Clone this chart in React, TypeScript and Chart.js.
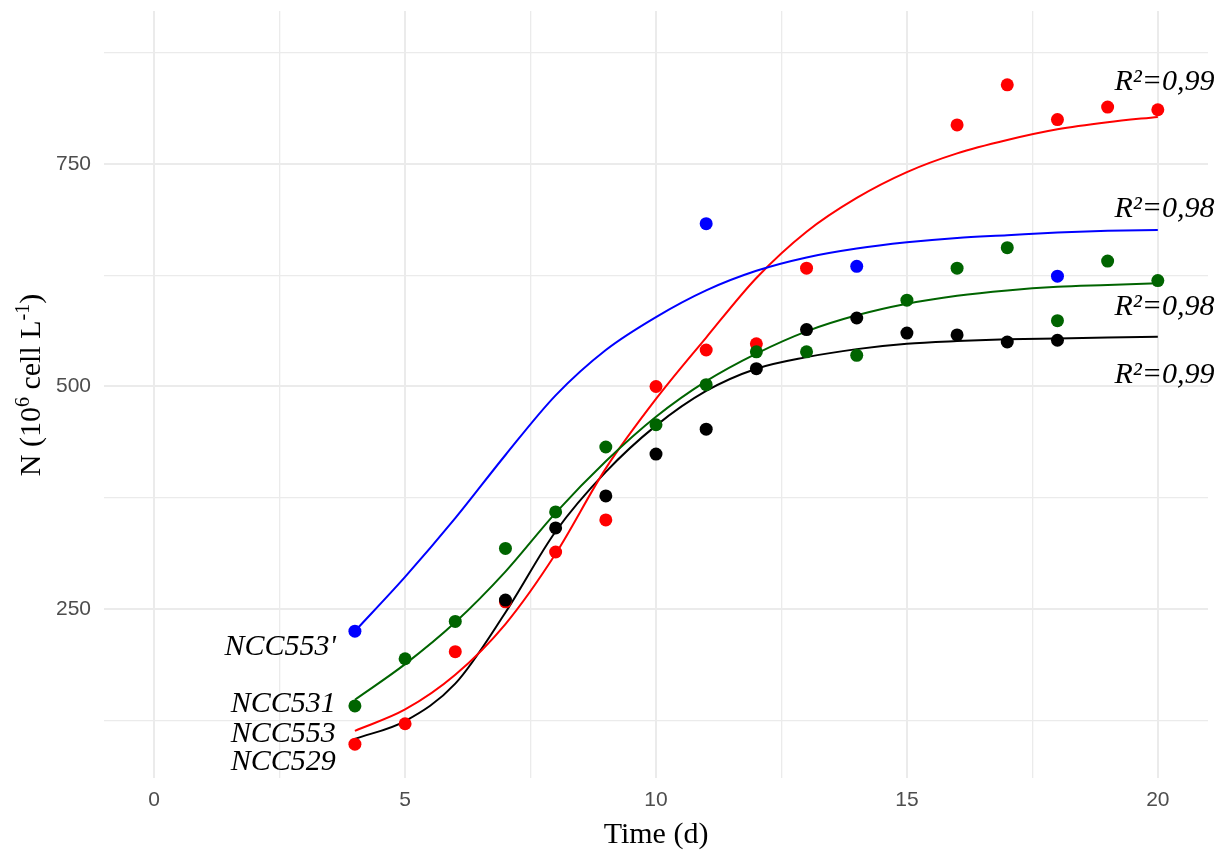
import React, { useEffect, useRef } from "react";
import { Chart, registerables } from "chart.js";

Chart.register(...registerables);

// ---- Data ----
// Fitted growth curves, sampled at each day
const curveDays = [4, 5, 6, 7, 8, 9, 10, 11, 12, 13, 14, 15, 16, 17, 18, 19, 20];
const fitNCC553p = [225, 286, 352, 423, 490, 541, 578, 608, 630, 645, 655, 662, 667, 670, 673, 675, 676];
const fitNCC531 = [148, 188, 235, 292, 358, 416, 466, 506, 537, 562, 580, 593, 602, 608, 612, 614, 616];
const fitNCC553 = [113, 137, 176, 233, 312, 408, 486, 555, 622, 674, 712, 741, 762, 777, 789, 797, 803];
const fitNCC529 = [104, 124, 166, 246, 337, 404, 456, 495, 520, 533, 542, 548, 551, 553, 554, 555, 556];

// Observed cell densities
const daysNCC553p = [4, 11, 14, 18];
const obsNCC553p = [225, 683, 635, 624];
const daysNCC531 = [4, 5, 6, 7, 8, 9, 10, 11, 12, 13, 14, 15, 16, 17, 18, 19, 20];
const obsNCC531 = [141, 194, 236, 318, 359, 432, 457, 502, 539, 539, 535, 597, 633, 656, 574, 641, 619];
const daysNCC553 = [4, 5, 6, 7, 8, 9, 10, 11, 12, 13, 16, 17, 18, 19, 20];
const obsNCC553 = [98, 121, 202, 258, 314, 350, 500, 541, 548, 633, 794, 839, 800, 814, 811];
const daysNCC529 = [7, 8, 9, 10, 11, 12, 13, 14, 15, 16, 17, 18];
const obsNCC529 = [260, 341, 377, 424, 452, 520, 564, 577, 560, 558, 550, 552];

// Text labels
const strainNames = ["NCC553'", "NCC531", "NCC553", "NCC529"];
const r2Labels = ["R²=0,99", "R²=0,98", "R²=0,98", "R²=0,99"];

// Ticks
const xTickValues = [0, 2.5, 5, 7.5, 10, 12.5, 15, 17.5, 20];
const xTickLabels = ["0", "", "5", "", "10", "", "15", "", "20"];
const yTickValues = [125, 250, 375, 500, 625, 750, 875];
const yTickLabels = ["", "250", "", "500", "", "750", ""];

// ---- Styling / placement (not data) ----
const COLORS = { blue: "#0000FF", green: "#006400", red: "#FF0000", black: "#000000" };
const SERIF = '"Liberation Serif", "DejaVu Serif", serif';
const leftLabelX = 3.62;
const leftLabelBaseY = [198, 134, 101, 68.5];
const rightLabelX = 21.13;
const rightLabelBaseY = [833, 691, 580.5, 504];

const pts = (xs: number[], ys: number[]) => xs.map((x, i) => ({ x, y: ys[i] }));

const annotationPlugin = {
  id: "annotations",
  afterDraw(chart: any) {
    const { ctx, scales } = chart;
    const x = scales.x;
    const y = scales.y;
    ctx.save();
    ctx.fillStyle = "#000";
    ctx.font = `italic 30px ${SERIF}`;
    ctx.textBaseline = "alphabetic";
    ctx.textAlign = "right";
    strainNames.forEach((name, i) => {
      ctx.fillText(name, x.getPixelForValue(leftLabelX), y.getPixelForValue(leftLabelBaseY[i]));
    });
    r2Labels.forEach((lab, i) => {
      ctx.fillText(lab, x.getPixelForValue(rightLabelX), y.getPixelForValue(rightLabelBaseY[i]));
    });

    // y-axis title with superscripts
    const mainFont = `30px ${SERIF}`;
    const supFont = `20px ${SERIF}`;
    const parts: { t: string; sup: boolean }[] = [
      { t: "N (10", sup: false },
      { t: "6", sup: true },
      { t: " cell L", sup: false },
      { t: "-1", sup: true },
      { t: ")", sup: false },
    ];
    let total = 0;
    const widths = parts.map((p) => {
      ctx.font = p.sup ? supFont : mainFont;
      const w = ctx.measureText(p.t).width;
      total += w;
      return w;
    });
    ctx.translate(40, 385);
    ctx.rotate(-Math.PI / 2);
    ctx.textAlign = "left";
    let cx = -total / 2;
    parts.forEach((p, i) => {
      ctx.font = p.sup ? supFont : mainFont;
      ctx.fillText(p.t, cx, p.sup ? -11 : 0);
      cx += widths[i];
    });
    ctx.restore();
  },
};

export default function App() {
  const canvasRef = useRef<HTMLCanvasElement | null>(null);

  useEffect(() => {
    document.body.style.margin = "0";
    const canvas = canvasRef.current;
    if (!canvas) return;

    const lineDs = (data: number[], color: string) => ({
      type: "line" as const,
      data: pts(curveDays, data),
      borderColor: color,
      borderWidth: 2,
      pointRadius: 0,
      fill: false,
      cubicInterpolationMode: "monotone" as const,
      order: 10,
    });
    const pointDs = (xs: number[], ys: number[], color: string, order: number) => ({
      type: "line" as const,
      data: pts(xs, ys),
      showLine: false,
      borderColor: color,
      backgroundColor: color,
      pointRadius: 6.5,
      pointBorderWidth: 0,
      pointHoverRadius: 6.5,
      order,
    });

    const chart = new Chart(canvas, {
      type: "line",
      data: {
        datasets: [
          lineDs(fitNCC553p, COLORS.blue),
          lineDs(fitNCC531, COLORS.green),
          lineDs(fitNCC553, COLORS.red),
          lineDs(fitNCC529, COLORS.black),
          pointDs(daysNCC553, obsNCC553, COLORS.red, 4),
          pointDs(daysNCC529, obsNCC529, COLORS.black, 3),
          pointDs(daysNCC531, obsNCC531, COLORS.green, 2),
          pointDs(daysNCC553p, obsNCC553p, COLORS.blue, 1),
        ] as any,
      },
      options: {
        responsive: false,
        animation: false,
        devicePixelRatio: 1,
        layout: { padding: { top: 11, right: 10, left: 0, bottom: 0 } },
        plugins: { legend: { display: false }, tooltip: { enabled: false } },
        scales: {
          x: {
            type: "linear",
            min: -1,
            max: 21,
            afterBuildTicks: (scale: any) => {
              scale.ticks = xTickValues.map((v) => ({ value: v }));
            },
            afterFit: (scale: any) => {
              scale.height = 75;
              scale.paddingLeft = 0;
              scale.paddingRight = 0;
            },
            ticks: {
              autoSkip: false,
              maxRotation: 0,
              padding: 10,
              color: "#4D4D4D",
              font: { family: '"Liberation Sans", Arial, sans-serif', size: 21 },
              callback: (_v: any, i: number) => xTickLabels[i],
            },
            grid: {
              color: "#EBEBEB",
              lineWidth: (c: any) => (c.tick && c.tick.value % 5 === 0 ? 2 : 1.3),
              drawTicks: false,
            },
            border: { display: false },
            title: {
              display: true,
              text: "Time (d)",
              color: "#000",
              font: { family: SERIF, size: 30, lineHeight: 1.2 },
              padding: { top: 0, bottom: 0 },
            },
          },
          y: {
            type: "linear",
            min: 60,
            max: 922,
            afterBuildTicks: (scale: any) => {
              scale.ticks = yTickValues.map((v) => ({ value: v }));
            },
            afterFit: (scale: any) => {
              scale.width = 104;
              scale.paddingTop = 0;
              scale.paddingBottom = 0;
            },
            ticks: {
              autoSkip: false,
              padding: 13,
              color: "#4D4D4D",
              font: { family: '"Liberation Sans", Arial, sans-serif', size: 21 },
              callback: (_v: any, i: number) => yTickLabels[i],
            },
            grid: {
              color: "#EBEBEB",
              lineWidth: (c: any) => (c.tick && c.tick.value % 250 === 0 ? 2 : 1.3),
              drawTicks: false,
            },
            border: { display: false },
          },
        },
      },
      plugins: [annotationPlugin],
    });

    return () => chart.destroy();
  }, []);

  return (
    <div style={{ width: 1218, height: 853, background: "#fff" }}>
      <canvas ref={canvasRef} width={1218} height={853} />
    </div>
  );
}
